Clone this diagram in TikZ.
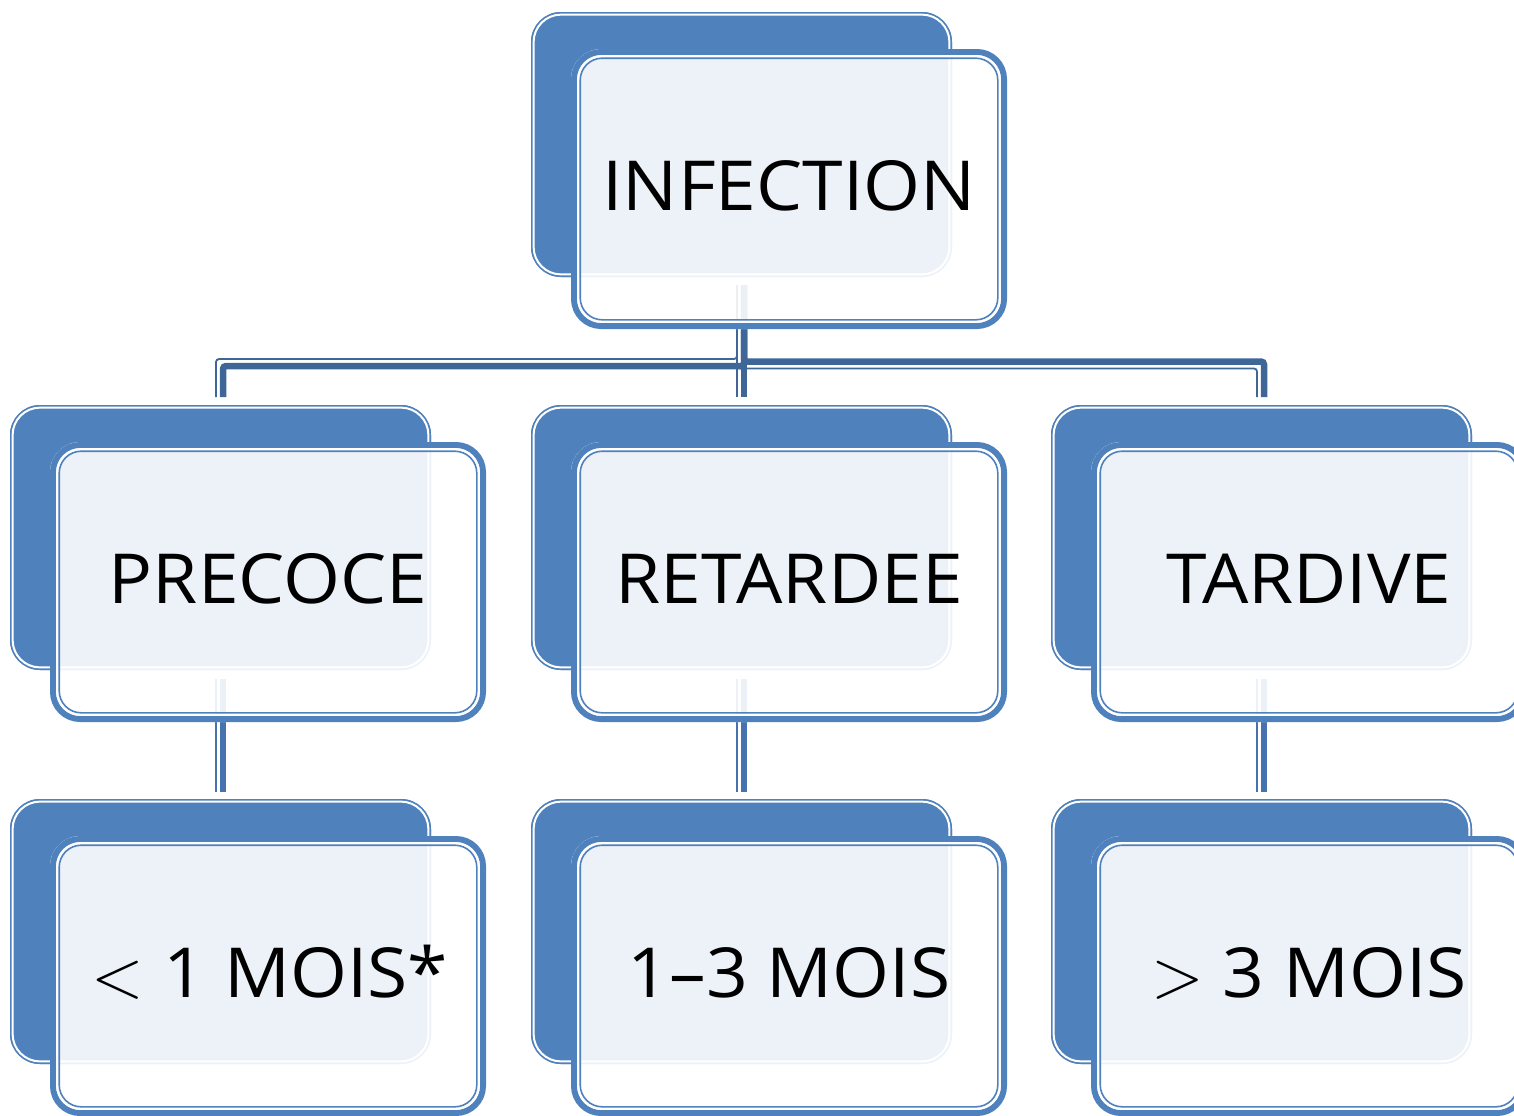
\RequirePackage{fix-cm}
\documentclass[tikz,border=0pt]{standalone}
\usepackage{fontspec}
\setmainfont[FakeStretch=1.06]{Open Sans}
\definecolor{accent}{HTML}{4F81BD}
\definecolor{linktop}{HTML}{3E6798}
\definecolor{linkbot}{HTML}{4673AF}
\tikzset{
  lbl/.style={font=\fontsize{34.5pt}{40pt}\selectfont, anchor=base, inner sep=0pt, text=black},
  thicklink/.style={line width=3.25pt, rounded corners=1.5pt},
  thinlink/.style={line width=0.9pt, rounded corners=1.5pt},
}
\newcommand\backbox[2]{%
  \fill[accent, rounded corners=15pt] (#1,#2) rectangle ({#1+421},{#2+265});
  \draw[accent, line width=0.75pt, rounded corners=14.6pt] ({#1+0.75},{#2+0.75}) rectangle ({#1+420.25},{#2+264.25});
  \draw[white, line width=1pt, rounded corners=13.7pt] ({#1+2.6},{#2+2.6}) rectangle ({#1+418.4},{#2+262.4});
}
\newcommand\frontbox[2]{%
  \fill[white, fill opacity=0.9, rounded corners=15pt] (#1,#2) rectangle ({#1+436},{#2+280});
  \draw[accent, line width=3pt, rounded corners=13.5pt] ({#1+3},{#2+3}) rectangle ({#1+433},{#2+277});
  \draw[white, line width=1.1pt, rounded corners=11.9pt] ({#1+7.2},{#2+7.2}) rectangle ({#1+428.8},{#2+272.8});
  \draw[accent, line width=0.8pt, rounded corners=11pt] ({#1+9.2},{#2+9.2}) rectangle ({#1+426.8},{#2+270.8});
}
\begin{document}
\begin{tikzpicture}[x=0.5pt,y=-0.5pt]
\useasboundingbox (0,0) rectangle (1514,1115);
\clip (0,0) rectangle (1514,1115);
% back boxes
\backbox{531}{12}
\backbox{10}{405}\backbox{531}{405}\backbox{1051}{405}
\backbox{10}{799}\backbox{531}{799}\backbox{1051}{799}
% connector points
\coordinate (r0) at (744,285);   \coordinate (r0t) at (737,285);
\coordinate (lA) at (744,366);   \coordinate (lAt) at (737,359);
\coordinate (lB) at (223,366);   \coordinate (lBt) at (216,359);
\coordinate (c1) at (223,397);   \coordinate (c1t) at (216,397);
\coordinate (c2) at (744,397);   \coordinate (c2t) at (737,397);
\coordinate (rA) at (744,361.5); \coordinate (rAt) at (737,368.5);
\coordinate (rB) at (1264,361.5);\coordinate (rBt) at (1257,368.5);
\coordinate (c3) at (1264,397);  \coordinate (c3t) at (1257,397);
\coordinate (d1) at (223,679);   \coordinate (d1t) at (216,679);
\coordinate (e1) at (223,792);   \coordinate (e1t) at (216,792);
\coordinate (d2) at (744,679);   \coordinate (d2t) at (737,679);
\coordinate (e2) at (744,792);   \coordinate (e2t) at (737,792);
\coordinate (d3) at (1264,679);  \coordinate (d3t) at (1257,679);
\coordinate (e3) at (1264,792);  \coordinate (e3t) at (1257,792);
% connectors: thin lines first
\draw[thinlink, linktop] (r0t) -- (lAt) -- (lBt) -- (c1t);
\draw[thinlink, linktop] (r0t) -- (c2t);
\draw[thinlink, linktop] (r0t) -- (rAt) -- (rBt) -- (c3t);
\draw[thinlink, linkbot] (d1t) -- (e1t);
\draw[thinlink, linkbot] (d2t) -- (e2t);
\draw[thinlink, linkbot] (d3t) -- (e3t);
\draw[thicklink, linktop] (r0) -- (lA) -- (lB) -- (c1);
\draw[thicklink, linktop] (r0) -- (c2);
\draw[thicklink, linktop] (r0) -- (rA) -- (rB) -- (c3);
\draw[thicklink, linkbot] (d1) -- (e1);
\draw[thicklink, linkbot] (d2) -- (e2);
\draw[thicklink, linkbot] (d3) -- (e3);
% front boxes
\frontbox{571}{49}
\frontbox{50}{442}\frontbox{571}{442}\frontbox{1091}{442}
\frontbox{50}{836}\frontbox{571}{836}\frontbox{1091}{836}
% labels
\node[lbl] (infection) at (789,210.5) {INFECTION};
\node[lbl] (precoce) at (268,603.5) {PRECOCE};
\node[lbl] (retardee) at (789,603.5) {RETARDEE};
\node[lbl] (tardive) at (1309,603.5) {TARDIVE};
\node[lbl] (early) at (270,997.5) {\(<\) 1 MOIS*};
\node[lbl] (mid) at (789,997.5) {1–3 MOIS};
\node[lbl] (late) at (1309,997.5) {\(>\) 3 MOIS};
\end{tikzpicture}
\end{document}
